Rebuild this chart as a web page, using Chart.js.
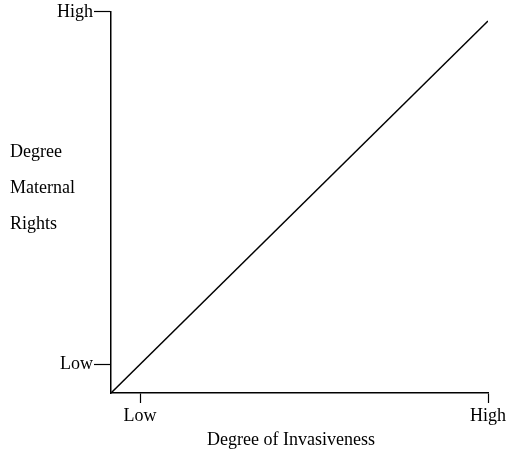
<!DOCTYPE html>
<html>
<head>
<meta charset="utf-8">
<script src="https://cdn.jsdelivr.net/npm/chart.js@4.4.1/dist/chart.umd.min.js"></script>
<style>
  html, body { margin: 0; padding: 0; background: #fff; }
  #wrap { width: 518px; height: 451px; }
</style>
</head>
<body>
<div id="wrap"><canvas id="chart" width="518" height="451"></canvas></div>
<script>
// Degree of invasiveness vs. degree of maternal rights (qualitative scale 0-100)
const invasiveness = [0, 100];
const maternalRights = [0, 97.6];

const xTickValues = [7.7, 100];
const xTickLabels = ['Low', 'High'];
const yTickValues = [7.5, 100];
const yTickLabels = ['Low', 'High'];

const yTitleLines = ['Degree', 'Maternal', 'Rights'];
const xTitle = 'Degree of Invasiveness';

const serif = { family: '"Liberation Serif", "Times New Roman", serif', size: 18 };

// axis captions: stacked horizontal y caption at the left, x caption under the axis
const captions = {
  id: 'captions',
  afterDraw(chart) {
    const ctx = chart.ctx;
    ctx.save();
    ctx.font = `${serif.size}px ${serif.family}`;
    ctx.fillStyle = '#000';
    ctx.textBaseline = 'alphabetic';
    ctx.textAlign = 'left';
    yTitleLines.forEach((line, i) => {
      ctx.fillText(line, 10, 157 + i * 36);
    });
    ctx.textAlign = 'center';
    ctx.fillText(xTitle, chart.chartArea.left + 180, 445);
    ctx.restore();
  }
};

const ctx = document.getElementById('chart').getContext('2d');
new Chart(ctx, {
  type: 'line',
  data: {
    datasets: [{
      data: invasiveness.map((x, i) => ({ x: x, y: maternalRights[i] })),
      borderColor: '#000',
      borderWidth: 1.5,
      pointRadius: 0,
      tension: 0
    }]
  },
  options: {
    responsive: false,
    animation: false,
    layout: { padding: { top: 10, right: 30, left: 0, bottom: 0 } },
    plugins: {
      legend: { display: false },
      tooltip: { enabled: false }
    },
    scales: {
      x: {
        type: 'linear',
        min: 0,
        max: 100,
        afterBuildTicks: (scale) => { scale.ticks = xTickValues.map(v => ({ value: v })); },
        afterFit: (scale) => { scale.height = 58; },
        ticks: {
          color: '#000',
          font: serif,
          padding: 2,
          maxRotation: 0,
          callback: (value, index) => xTickLabels[index]
        },
        grid: {
          drawOnChartArea: false,
          drawTicks: true,
          tickLength: 10,
          tickColor: '#000',
          tickWidth: 1.2
        },
        border: { display: true, color: '#000', width: 1.5 }
      },
      y: {
        type: 'linear',
        min: 0,
        max: 100,
        afterBuildTicks: (scale) => { scale.ticks = yTickValues.map(v => ({ value: v })); },
        afterFit: (scale) => { scale.width = 111; },
        ticks: {
          color: '#000',
          font: serif,
          padding: 1,
          callback: (value, index) => yTickLabels[index]
        },
        grid: {
          drawOnChartArea: false,
          drawTicks: true,
          tickLength: 17,
          tickColor: '#000',
          tickWidth: 1.2
        },
        border: { display: true, color: '#000', width: 1.5 }
      }
    }
  },
  plugins: [captions]
});
</script>
</body>
</html>
